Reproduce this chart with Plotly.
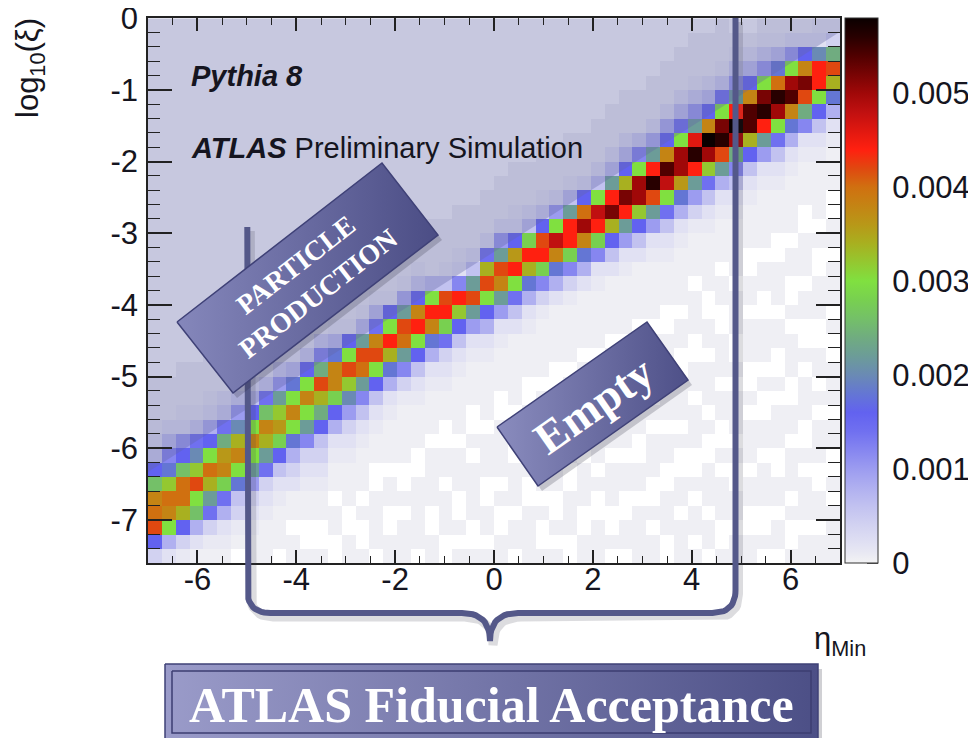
import plotly.graph_objects as go

# ---------------- data ----------------
# Histogram binning: 50 bins in eta_Min over [-7, 7], 38 bins in log10(xi) over [-7.6, 0]
eta_range = [-7.0, 7.0]
n_eta_bins = 50
logxi_range = [-7.6, 0.0]
n_logxi_bins = 38

# One string per eta bin (left -> right); characters run from the TOP row (log10 xi = 0)
# downwards.  Missing leading characters are empty bins.  Codes are defined in code_values.
col_codes = [
    "---1abhmstuhb",
    "---acfiptsoda",
    "---1aehmttqhb1",
    "---1bgjpuomda-",
    "---1adhotqkgb1-",
    "---abglrsngda1-",
    "---abejqsoicb1-.",
    "---achosokeba1--",
    "---1bgmsqkgba1---",
    "---1bekprnhca1---.",
    "---1ciosoidba--.--",
    "---1bhosokfba1--..-",
    "---bfluqlhcba1--..-",
    "---1cissnhda1" + "--.--..",
    "---1houpjeba1" + "---..--",
    "---1ckutkfca1" + "---.-..-",
    "---1cgsuohca1" + "--..----.",
    "---1hovqida1" + "---.--..--",
    "---1dkutkfb1" + "----..-.---",
    "---1bhsvohca1" + "---..-----.",
    "----covsida1" + "---.----..--",
    "---1cuvngba1" + "--..--.---..",
    "---1afvphca1" + "----.---..-.-",
    "---ackukea1" + "---..-.----..-",
    "---agquohda1" + "----.---..--.-",
    "---aekuskea1" + "---..----.-..--",
    "---1ahrvogca-" + "----.-..---.--.",
    "---acnvqida1" + "---..---.-..----",
    "---1bhuvnfb1" + "----.--..---.-..-",
    "---aeoxsida-" + "---..----.--..-.-",
    "---1ckvvnfb1" + "----.-..---..---..",
    "---ahtysida-" + "---.---..-.---..--",
    "---acoxvnfa1" + "----..--.---.-..---",
    "---ackvzqhca-" + "---.---..--.---..-.",
    "---achqzvkea1" + "----.-..----.--..--.",
    "---bfoyyphca-" + "---..---.--..--.----",
    "---adkvBukea1" + "----.---..-.---..-.--",
    "---adhsAxogca1" + "---..--.---.--..---..",
    "---acgoyyrida1" + "----.--..---.-..--.---",
    "---1bekwBvkeb1" + "---.---..--.---..-.--.-",
    "---achsCypgca1" + "----..--.---.-..---.--.",
    "---1bgozBukda1" + "---.--..---.--..-.---..-",
    ".-1bekvCylfca1" + "----.---..-.---.-..--.--",
    ".-achsAAqhca1" + "---..--.---..-.---.--..--",
    "-1beozBvkea1" + "----.--..---.-..--.---..-.",
    "-1citByogca1" + "---..---.--..-.---..--.--.",
    "-aeoyAsida1" + "----.--..-.---..--.---.-..-",
    "-ahszulfa1" + "---..---.--..-.---..-.---.--",
    "1ajvvohca1" + "----.-..---..--.-.---..--.--",
    "1bluqida1" + "---..--.---.-..---.--..-.----",
]

# value of each code (bin content); '.' = empty bin
code_values = {'.': None, '-': 0.00004, '1': 0.0001,
               'a': 0.0002, 'b': 0.0004, 'c': 0.0006, 'd': 0.0008, 'e': 0.0010,
               'f': 0.0012, 'g': 0.0014, 'h': 0.0016, 'i': 0.0018, 'j': 0.0020,
               'k': 0.0022, 'l': 0.0024, 'm': 0.0026, 'n': 0.0028, 'o': 0.0030,
               'p': 0.0032, 'q': 0.0034, 'r': 0.0036, 's': 0.0038, 't': 0.0040,
               'u': 0.0042, 'v': 0.0044, 'w': 0.0046, 'x': 0.0048, 'y': 0.0050,
               'z': 0.0052, 'A': 0.0054, 'B': 0.0056, 'C': 0.0058}
z_max = 0.0058

x_tick_vals = [-6, -4, -2, 0, 2, 4, 6]
x_tick_text = ["-6", "-4", "-2", "0", "2", "4", "6"]
y_tick_vals = [0, -1, -2, -3, -4, -5, -6, -7]
y_tick_text = ["0", "-1", "-2", "-3", "-4", "-5", "-6", "-7"]
cbar_tick_vals = [0, 0.001, 0.002, 0.003, 0.004, 0.005]
cbar_tick_text = ["0", "0.001", "0.002", "0.003", "0.004", "0.005"]

# ---------------- build matrix ----------------
dx = (eta_range[1] - eta_range[0]) / n_eta_bins
dy = (logxi_range[1] - logxi_range[0]) / n_logxi_bins
x_centers = [eta_range[0] + dx * (i + 0.5) for i in range(n_eta_bins)]
y_centers = [logxi_range[0] + dy * (j + 0.5) for j in range(n_logxi_bins)]
cols = []
for s in col_codes:
    assert len(s) <= n_logxi_bins, s
    cols.append(s.rjust(n_logxi_bins, '.'))
z = []
for j in range(n_logxi_bins):          # j = 0 is the bottom row
    t = n_logxi_bins - 1 - j
    z.append([code_values[cols[i][t]] for i in range(n_eta_bins)])

palette = [
    (0.0000, '#f3f3f4'), (0.0172, '#e9e9f3'), (0.0345, '#e1e1f3'), (0.0690, '#d2d2f1'),
    (0.1034, '#c2c2f0'), (0.1379, '#b0b0f0'), (0.1724, '#9c9cf0'), (0.2069, '#8686f0'),
    (0.2414, '#7070f0'), (0.2759, '#6262f0'), (0.3103, '#6476d4'), (0.3448, '#6a8ab4'),
    (0.3793, '#6c9c98'), (0.4138, '#70ac80'), (0.4483, '#74c068'), (0.4828, '#78d050'),
    (0.5172, '#80e040'), (0.5517, '#94c830'), (0.5862, '#a8b020'), (0.6207, '#b89818'),
    (0.6552, '#c48414'), (0.6897, '#d07010'), (0.7241, '#e04810'), (0.7586, '#ff2010'),
    (0.7931, '#e01810'), (0.8276, '#c01010'), (0.8621, '#a00808'), (0.8966, '#780404'),
    (0.9310, '#500000'), (0.9655, '#280000'), (1.0000, '#0a0000')]
colorscale = [[p, c] for p, c in palette]

# ---------------- geometry (page pixels; the page body has an 8 px margin) ----------------
OFF = 8
W, H = 976 - OFF, 738 - OFF
PX_L, PX_R, PX_T, PX_B = 148, 840, 18.2, 563
CB_L, CB_R = 845, 878


def fx(px):
    return (px - OFF) / W


def fy(py):
    return 1 - (py - OFF) / H


FONT = "Liberation Sans, Arial, Helvetica, sans-serif"
SERIF = "Liberation Serif, Times New Roman, serif"
INK = "#151520"

fig = go.Figure()
fig.add_trace(go.Heatmap(
    x=x_centers, y=y_centers, z=z, zmin=0, zmax=z_max, colorscale=colorscale,
    hoverinfo='skip', xaxis='x', yaxis='y',
    colorbar=dict(x=fx(CB_L), xanchor='left', y=fy((PX_T + PX_B) / 2), yanchor='middle',
                  len=PX_B - PX_T, lenmode='pixels', thickness=CB_R - CB_L,
                  thicknessmode='pixels', outlinewidth=1, outlinecolor='#333',
                  ticks='outside', ticklen=8, tickcolor='rgba(0,0,0,0)',
                  ticklabeloverflow='allow',
                  tickvals=cbar_tick_vals, ticktext=cbar_tick_text, xpad=0, ypad=0,
                  tickfont=dict(size=31, family=FONT, color=INK))))

# translucent "particle production" shading above the kinematic limit
fig.add_trace(go.Scatter(x=[-7, 7, 7, -7, -7], y=[-6.33, -0.19, 0, 0, -6.33],
                         mode='lines', line=dict(width=0), fill='toself',
                         fillcolor='rgba(100,102,165,0.36)', hoverinfo='skip',
                         showlegend=False, xaxis='x', yaxis='y'))

# colour-bar tick marks drawn inside the bar (ROOT style)
for v in cbar_tick_vals:
    ty = PX_B - v / z_max * (PX_B - PX_T)
    fig.add_trace(go.Scatter(x=[CB_R - 11, CB_R], y=[ty, ty], mode='lines',
                             line=dict(color='#222', width=1.5), hoverinfo='skip',
                             showlegend=False, xaxis='x2', yaxis='y2'))


# ---------------- decorations in pixel space (full-figure overlay axes) ----------------
def qbez(p0, p1, p2, n=14):
    pts = []
    for k in range(n + 1):
        u = k / n
        pts.append(((1 - u) ** 2 * p0[0] + 2 * (1 - u) * u * p1[0] + u ** 2 * p2[0],
                    (1 - u) ** 2 * p0[1] + 2 * (1 - u) * u * p1[1] + u ** 2 * p2[1]))
    return pts


XL, XR, YH, XT, YT = 247.3, 735.5, 613, 490, 641
brace = [(XL, 227)]
brace += qbez((XL, 590), (XL, YH), (XL + 23, YH))
brace += qbez((XT - 28, YH), (XT, YH), (XT, YT))
brace += qbez((XT, YT), (XT, YH), (XT + 28, YH))
brace += qbez((XR - 23, YH), (XR, YH), (XR, 590))
brace += [(XR, 18)]
bx = [p[0] for p in brace]
by = [p[1] for p in brace]
fig.add_trace(go.Scatter(x=[v + 3 for v in bx], y=[v + 4 for v in by], mode='lines',
                         line=dict(color='rgba(60,60,80,0.18)', width=9), hoverinfo='skip',
                         showlegend=False, xaxis='x2', yaxis='y2'))
fig.add_trace(go.Scatter(x=bx, y=by, mode='lines', line=dict(color='#545889', width=6),
                         hoverinfo='skip', showlegend=False, xaxis='x2', yaxis='y2'))


def box(corners, c0, c1, edge='#3f4177'):
    xs = [p[0] for p in corners] + [corners[0][0]]
    ys = [p[1] for p in corners] + [corners[0][1]]
    fig.add_trace(go.Scatter(x=[v + 4 for v in xs], y=[v + 5 for v in ys], mode='lines',
                             line=dict(width=0), fill='toself',
                             fillcolor='rgba(40,40,60,0.22)', hoverinfo='skip',
                             showlegend=False, xaxis='x2', yaxis='y2'))
    fig.add_trace(go.Scatter(x=xs, y=ys, mode='lines', line=dict(color=edge, width=1.5),
                             fill='toself',
                             fillgradient=dict(type='horizontal',
                                               colorscale=[[0, c0], [1, c1]]),
                             hoverinfo='skip', showlegend=False, xaxis='x2', yaxis='y2'))


box([(177, 322), (382, 163), (438, 235), (233, 393)], '#8587bb', '#4b4d85')
box([(497, 427), (647, 322), (688, 380), (538, 486)], '#8a8cbe', '#4e5088')
box([(165, 664), (818, 664), (818, 742), (165, 742)], '#9a9bc9', '#4c4f86')
fig.add_trace(go.Scatter(x=[172, 811, 811, 172, 172], y=[671, 671, 733, 733, 671], mode='lines',
                         line=dict(color='#3c3e72', width=1.5), hoverinfo='skip',
                         showlegend=False, xaxis='x2', yaxis='y2'))

ax_common = dict(showline=True, linecolor='#222', linewidth=1.5, mirror='ticks',
                 ticks='inside', tickcolor='#222', tickwidth=1.5, showgrid=False,
                 zeroline=False, tickfont=dict(size=31, family=FONT, color=INK),
                 automargin=False, fixedrange=True, ticklabeloverflow='allow')
fig.update_layout(
    width=W, height=H, margin=dict(l=0, r=0, t=0, b=0),
    paper_bgcolor='white', plot_bgcolor='rgba(0,0,0,0)', showlegend=False,
    xaxis=dict(domain=[fx(PX_L), fx(PX_R)], range=eta_range, anchor='y',
               tickvals=x_tick_vals, ticktext=x_tick_text, ticklen=13,
               ticklabelstandoff=-12,
               minor=dict(dtick=0.5, ticks='inside', ticklen=7, tickcolor='#222',
                          tickwidth=1.2), **ax_common),
    yaxis=dict(domain=[fy(PX_B), fy(PX_T)], range=logxi_range, anchor='x',
               tickvals=y_tick_vals, ticktext=y_tick_text, ticklen=24,
               ticklabelstandoff=2,
               minor=dict(dtick=0.2, ticks='inside', ticklen=12, tickcolor='#222',
                          tickwidth=1.2), **ax_common),
    xaxis2=dict(domain=[0, 1], range=[OFF, 976], visible=False, anchor='y2',
                fixedrange=True),
    yaxis2=dict(domain=[0, 1], range=[738, OFF], visible=False, anchor='x2',
                fixedrange=True),
)


def px_ann(text, x, y, size, family=FONT, color=INK, xanchor='center', yanchor='middle',
           angle=0):
    fig.add_annotation(text=text, x=fx(x), y=fy(y), xref='paper', yref='paper',
                       showarrow=False, xanchor=xanchor, yanchor=yanchor, textangle=angle,
                       font=dict(size=size, family=family, color=color))


px_ann("<b><i>Pythia 8</i></b>", 189, 76, 29, xanchor='left')
px_ann("<b><i>ATLAS</i></b> Preliminary Simulation", 189, 148, 29, xanchor='left')
px_ann("log<sub>10</sub>(ξ)", 30, 68, 31, angle=-90)
px_ann("η<sub>Min</sub>", 868, 641, 31, xanchor='right')
px_ann("<b>PARTICLE<br>PRODUCTION</b>", 306, 279, 28, family=SERIF, color='white',
       angle=-37.8)
px_ann("<b>Empty</b>", 593, 405, 46, family=SERIF, color='white', angle=-35)
px_ann("<b>ATLAS Fiducial Acceptance</b>", 491, 705, 50, family=SERIF, color='white')

fig.write_html("out.html")
